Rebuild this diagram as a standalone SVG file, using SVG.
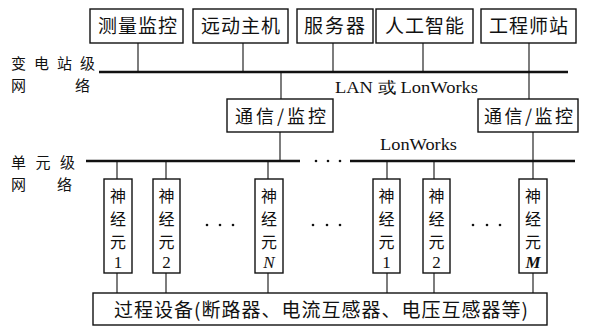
<svg xmlns="http://www.w3.org/2000/svg" width="591" height="327" viewBox="0 0 591 327">
<style>
.box{fill:#fff;stroke:#111;stroke-width:1.4}
.ln{stroke:#111;stroke-width:1.1;fill:none}
.bus{stroke:#111;stroke-width:2.4;fill:none}
.cj{font-family:"Noto Sans CJK SC","Noto Sans",sans-serif;font-size:18px;fill:#111}
.lb{font-family:"Noto Sans CJK SC","Noto Sans",sans-serif;font-size:15px;fill:#111}
.nr{font-family:"Noto Sans CJK SC","Noto Sans",sans-serif;font-size:16px;fill:#111;text-anchor:middle}
.lt{font-family:"Liberation Serif",serif;font-size:16px;fill:#111}
.num{font-family:"Liberation Serif",serif;font-size:17px;fill:#111;text-anchor:middle}
.dot{fill:#111}
</style>
<rect width="591" height="327" fill="#fff"/>
<g id="labels">
<text class="lb" x="11" y="69" textLength="84" lengthAdjust="spacing">变电站级</text>
<text class="lb" x="11" y="91">网</text>
<text class="lb" x="75" y="91">络</text>
<text class="lb" x="11" y="168" textLength="64" lengthAdjust="spacing">单元级</text>
<text class="lb" x="11" y="190">网</text>
<text class="lb" x="57" y="190">络</text>
<text class="lt" x="335" y="93" textLength="143" lengthAdjust="spacingAndGlyphs">LAN 或 LonWorks</text>
<text class="lt" x="380" y="150" textLength="77" lengthAdjust="spacingAndGlyphs">LonWorks</text>
</g>
<g id="connectors">
<line class="bus" x1="99" y1="72" x2="568" y2="72"/>
<line class="bus" x1="86" y1="161" x2="300" y2="161"/>
<line class="bus" x1="350" y1="161" x2="575" y2="161"/>
<circle class="dot" cx="316" cy="161" r="1.3"/>
<circle class="dot" cx="328" cy="161" r="1.3"/>
<circle class="dot" cx="340" cy="161" r="1.3"/>
<line class="ln" x1="138" y1="43" x2="138" y2="72"/>
<line class="ln" x1="243" y1="43" x2="243" y2="72"/>
<line class="ln" x1="333" y1="43" x2="333" y2="72"/>
<line class="ln" x1="423" y1="43" x2="423" y2="72"/>
<line class="ln" x1="529" y1="43" x2="529" y2="99"/>
<line class="ln" x1="281" y1="72" x2="281" y2="99"/>
<line class="ln" x1="280" y1="132" x2="280" y2="161"/>
<line class="ln" x1="533" y1="132" x2="533" y2="179"/>
<line class="ln" x1="117" y1="161" x2="117" y2="179"/>
<line class="ln" x1="166" y1="161" x2="166" y2="179"/>
<line class="ln" x1="268" y1="161" x2="268" y2="179"/>
<line class="ln" x1="387" y1="161" x2="387" y2="179"/>
<line class="ln" x1="434" y1="161" x2="434" y2="179"/>
<line class="ln" x1="117" y1="273" x2="117" y2="293"/>
<line class="ln" x1="166" y1="273" x2="166" y2="293"/>
<line class="ln" x1="268" y1="273" x2="268" y2="293"/>
<line class="ln" x1="387" y1="273" x2="387" y2="293"/>
<line class="ln" x1="434" y1="273" x2="434" y2="293"/>
<line class="ln" x1="533" y1="273" x2="533" y2="293"/>
</g>
<g id="n-celiang"><rect class="box" x="90" y="9" width="93" height="34"/><text class="cj" x="98" y="33" textLength="79" lengthAdjust="spacing" style="font-size:19px">测量监控</text></g>
<g id="n-yuandong"><rect class="box" x="193" y="9" width="95" height="34"/><text class="cj" x="201" y="33" textLength="79" lengthAdjust="spacing" style="font-size:19px">远动主机</text></g>
<g id="n-fuwuqi"><rect class="box" x="297" y="9" width="76" height="34"/><text class="cj" x="304" y="33" textLength="61" lengthAdjust="spacing" style="font-size:19px">服务器</text></g>
<g id="n-rengong"><rect class="box" x="376" y="9" width="97" height="34"/><text class="cj" x="385" y="33" textLength="79" lengthAdjust="spacing" style="font-size:19px">人工智能</text></g>
<g id="n-gongcheng"><rect class="box" x="481" y="9" width="95" height="34"/><text class="cj" x="489" y="33" textLength="79" lengthAdjust="spacing" style="font-size:19px">工程师站</text></g>
<g id="n-tongxin1"><rect class="box" x="227" y="99" width="106" height="33"/><text class="cj" x="235" y="123" textLength="91" lengthAdjust="spacing">通信/监控</text></g>
<g id="n-tongxin2"><rect class="box" x="478" y="99" width="100" height="33"/><text class="cj" x="484" y="123" textLength="89" lengthAdjust="spacing">通信/监控</text></g>
<g id="n-s1"><rect class="box" x="104" y="179" width="28" height="94"/><text class="nr" x="118" y="202">神</text><text class="nr" x="118" y="225">经</text><text class="nr" x="118" y="248">元</text><text class="num" x="118" y="268">1</text></g>
<g id="n-s2"><rect class="box" x="153" y="179" width="27" height="94"/><text class="nr" x="166.5" y="202">神</text><text class="nr" x="166.5" y="225">经</text><text class="nr" x="166.5" y="248">元</text><text class="num" x="166.5" y="268">2</text></g>
<g id="n-sN"><rect class="box" x="255" y="179" width="28" height="94"/><text class="nr" x="269" y="202">神</text><text class="nr" x="269" y="225">经</text><text class="nr" x="269" y="248">元</text><text class="num" x="269" y="268" font-style="italic">N</text></g>
<g id="n-t1"><rect class="box" x="373" y="179" width="27" height="94"/><text class="nr" x="386.5" y="202">神</text><text class="nr" x="386.5" y="225">经</text><text class="nr" x="386.5" y="248">元</text><text class="num" x="386.5" y="268">1</text></g>
<g id="n-t2"><rect class="box" x="423" y="179" width="27" height="94"/><text class="nr" x="436.5" y="202">神</text><text class="nr" x="436.5" y="225">经</text><text class="nr" x="436.5" y="248">元</text><text class="num" x="436.5" y="268">2</text></g>
<g id="n-tM"><rect class="box" x="519" y="179" width="28" height="94"/><text class="nr" x="533" y="202">神</text><text class="nr" x="533" y="225">经</text><text class="nr" x="533" y="248">元</text><text class="num" x="533" y="268" font-style="italic" font-weight="bold">M</text></g>
<g id="ellipsis">
<circle class="dot" cx="207" cy="225" r="1.3"/><circle class="dot" cx="220" cy="225" r="1.3"/><circle class="dot" cx="233" cy="225" r="1.3"/>
<circle class="dot" cx="313" cy="225" r="1.3"/><circle class="dot" cx="327" cy="225" r="1.3"/><circle class="dot" cx="340" cy="225" r="1.3"/>
<circle class="dot" cx="473" cy="225" r="1.3"/><circle class="dot" cx="487" cy="225" r="1.3"/><circle class="dot" cx="500" cy="225" r="1.3"/>
</g>
<g id="n-guocheng"><rect class="box" x="93" y="293" width="454" height="32"/><text class="cj" x="114" y="317" textLength="414" lengthAdjust="spacing" style="font-size:19px">过程设备(断路器、电流互感器、电压互感器等)</text></g>
</svg>
